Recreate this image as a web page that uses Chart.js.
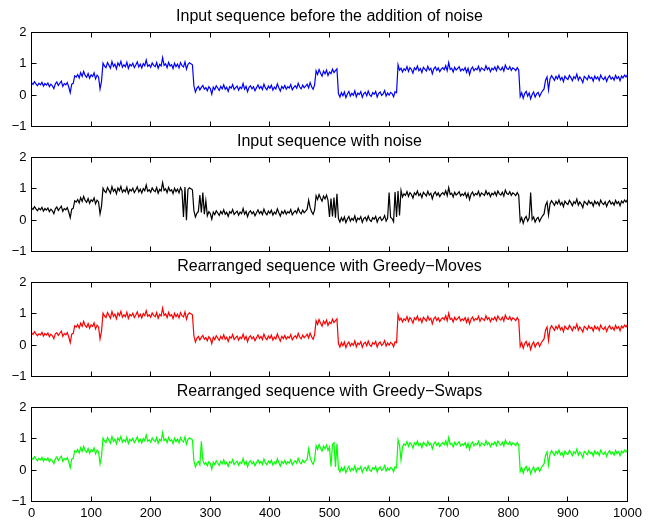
<!DOCTYPE html>
<html>
<head>
<meta charset="utf-8">
<script src="https://cdn.jsdelivr.net/npm/chart.js@4/dist/chart.umd.min.js"></script>
<style>
  body { margin: 0; background: #fff; }
  #wrap { position: relative; width: 650px; height: 522px; }
  #wrap canvas { position: absolute; left: 0; top: 0; }
</style>
</head>
<body>
<div id="wrap">
  <canvas id="p0" width="650" height="522"></canvas>
  <canvas id="p1" width="650" height="522"></canvas>
  <canvas id="p2" width="650" height="522"></canvas>
  <canvas id="p3" width="650" height="522"></canvas>
</div>
<script>
// one sample every 2.5 steps, x = 0..1000
const xs = Array.from({ length: 401 }, (_, i) => i * 2.5);

const titles = [
  'Input sequence before the addition of noise',
  'Input sequence with noise',
  'Rearranged sequence with Greedy\u2212Moves',
  'Rearranged sequence with Greedy\u2212Swaps'
];
const colors = ['#0000ff', '#000000', '#ff0000', '#00ff00'];
const yTickValues = [-1, 0, 1, 2];
const xTickValues = [0, 100, 200, 300, 400, 500, 600, 700, 800, 900, 1000];

const original = [
  0.40,0.34,0.43,0.36,0.30,0.38,0.33,0.41,0.29,0.37,
  0.32,0.39,0.27,0.35,0.30,0.21,0.36,0.42,0.31,0.38,
  0.45,0.28,0.37,0.33,0.40,0.26,0.08,0.35,0.38,0.62,
  0.58,0.66,0.55,0.72,0.60,0.76,0.63,0.57,0.69,0.54,
  0.65,0.60,0.71,0.52,0.64,0.58,0.20,0.45,1.02,0.93,
  0.88,1.04,0.95,0.86,1.07,0.92,0.99,0.84,1.03,0.94,
  1.08,0.89,0.97,0.91,1.05,0.85,0.98,0.93,1.02,0.88,
  0.96,1.06,0.90,0.99,0.87,1.01,0.94,1.12,0.92,0.97,
  0.89,1.03,0.95,0.91,1.04,0.86,0.98,0.93,1.20,0.95,
  1.00,0.88,1.05,0.93,0.97,0.85,1.02,0.91,0.99,0.87,
  1.04,0.94,0.90,1.06,0.83,0.98,1.03,1.00,0.97,0.30,
  0.10,0.22,0.28,0.17,0.25,0.31,0.19,0.24,0.14,0.27,
  0.21,0.03,0.26,0.18,0.30,0.23,0.15,0.28,0.20,0.33,
  0.19,0.25,0.12,0.27,0.22,0.34,0.18,0.24,0.29,0.16,
  0.26,0.21,0.37,0.19,0.28,0.11,0.25,0.30,0.20,0.27,
  0.14,0.24,0.33,0.21,0.28,0.18,0.35,0.23,0.17,0.29,
  0.22,0.32,0.16,0.26,0.20,0.36,0.24,0.13,0.28,0.21,
  0.31,0.19,0.27,0.23,0.34,0.17,0.25,0.30,0.22,0.38,
  0.26,0.20,0.32,0.24,0.29,0.35,0.23,0.40,0.27,0.19,
  0.33,0.78,0.66,0.82,0.70,0.61,0.77,0.68,0.80,0.63,
  0.74,0.69,0.83,0.72,0.78,0.84,0.05,-0.06,0.08,-0.02,
  0.10,-0.08,0.04,0.12,-0.03,0.06,0.00,0.14,-0.05,0.07,
  0.02,0.11,-0.07,0.05,0.09,-0.02,0.13,0.01,-0.04,0.08,
  0.03,0.12,-0.06,0.06,0.10,-0.01,0.04,0.15,-0.03,0.07,
  0.00,0.09,0.05,-0.05,0.11,0.08,0.97,0.80,0.86,0.74,
  0.84,0.79,0.91,0.76,0.88,0.82,0.70,0.87,0.81,0.93,
  0.78,0.85,0.72,0.89,0.83,0.77,0.92,0.80,0.86,0.68,
  0.84,0.90,0.79,0.87,0.75,0.83,0.88,0.81,0.94,0.78,
  1.04,0.82,0.86,0.74,0.89,0.80,0.85,0.91,0.77,0.84,
  0.79,0.88,0.73,0.86,0.66,0.83,0.90,0.78,0.85,0.81,
  0.92,0.76,0.87,0.83,0.79,0.94,0.82,0.88,0.75,0.86,
  0.81,0.90,0.78,0.93,0.84,0.80,0.89,0.77,0.96,0.85,
  0.82,0.91,0.79,0.87,0.84,0.78,0.88,0.80,-0.04,0.08,
  -0.10,0.05,0.12,-0.03,0.07,-0.12,0.02,0.10,-0.06,0.04,
  0.09,-0.04,0.06,0.14,0.20,0.48,0.58,0.17,0.52,0.62,
  0.55,0.47,0.60,0.52,0.64,0.49,0.57,0.43,0.61,0.54,
  0.50,0.63,0.56,0.46,0.59,0.53,0.67,0.48,0.58,0.51,
  0.40,0.60,0.55,0.49,0.62,0.53,0.57,0.45,0.61,0.52,
  0.58,0.47,0.64,0.54,0.50,0.59,0.44,0.56,0.62,0.51,
  0.57,0.48,0.63,0.53,0.59,0.46,0.61,0.55,0.64,0.58,
  0.66
];

const noisy = [
  0.40,0.34,0.43,0.36,0.30,0.38,0.33,0.41,0.29,0.37,
  0.32,0.39,0.27,0.35,0.30,0.21,0.36,0.42,0.31,0.38,
  0.45,0.28,0.37,0.33,0.40,0.26,0.08,0.35,0.38,0.62,
  0.58,0.66,0.55,0.72,0.60,0.76,0.63,0.57,0.69,0.54,
  0.65,0.60,0.71,0.52,0.64,0.58,0.20,0.45,1.02,0.93,
  0.88,1.04,0.95,0.86,1.07,0.92,0.99,0.84,1.03,0.94,
  1.08,0.89,0.97,0.91,1.05,0.85,0.98,0.93,1.02,0.88,
  0.96,1.06,0.90,0.99,0.87,1.01,0.94,1.12,0.92,0.97,
  0.89,1.03,0.95,0.91,1.04,0.86,0.98,0.93,1.20,0.95,
  1.00,0.88,1.05,0.93,0.97,0.85,1.02,0.91,0.99,0.87,
  1.04,0.94,0.10,1.06,0.00,0.98,1.03,1.00,0.97,0.30,
  0.10,0.22,0.28,0.80,0.25,0.88,0.19,0.62,0.14,0.27,
  0.21,0.03,0.26,0.18,0.30,0.23,0.15,0.28,0.20,0.33,
  0.19,0.25,0.12,0.27,0.22,0.34,0.18,0.24,0.29,0.16,
  0.26,0.21,0.37,0.19,0.28,0.11,0.25,0.30,0.20,0.27,
  0.14,0.24,0.33,0.21,0.28,0.18,0.35,0.23,0.17,0.29,
  0.22,0.32,0.16,0.26,0.20,0.36,0.24,0.13,0.28,0.21,
  0.31,0.19,0.27,0.23,0.34,0.17,0.25,0.30,0.22,0.38,
  0.26,0.20,0.32,0.24,0.29,0.35,0.64,0.40,0.27,0.19,
  0.33,0.78,0.66,0.82,0.70,0.61,0.77,0.68,0.80,0.63,
  0.10,0.69,0.12,0.72,0.08,0.84,0.05,-0.06,0.08,-0.02,
  0.10,-0.08,0.04,0.12,-0.03,0.06,0.00,0.14,-0.05,0.07,
  0.02,0.11,-0.07,0.05,0.09,-0.02,0.13,0.01,-0.04,0.08,
  0.03,0.12,-0.06,0.06,0.10,-0.01,0.04,0.15,-0.03,0.07,
  0.88,0.09,0.05,-0.05,0.90,0.10,0.93,0.15,0.95,0.74,
  0.84,0.79,0.91,0.76,0.88,0.82,0.70,0.87,0.81,0.93,
  0.78,0.85,0.72,0.89,0.83,0.77,0.92,0.80,0.86,0.68,
  0.84,0.90,0.79,0.87,0.75,0.83,0.88,0.81,0.94,0.78,
  1.04,0.82,0.86,0.74,0.89,0.80,0.85,0.91,0.77,0.84,
  0.79,0.88,0.73,0.86,0.66,0.83,0.90,0.78,0.85,0.81,
  0.92,0.76,0.87,0.83,0.79,0.94,0.82,0.88,0.75,0.86,
  0.81,0.90,0.78,0.93,0.84,0.80,0.89,0.77,0.96,0.85,
  0.82,0.91,0.79,0.87,0.84,0.78,0.88,0.80,-0.04,0.08,
  -0.10,0.05,0.12,-0.03,0.07,0.88,0.02,0.10,-0.06,0.04,
  0.09,-0.04,0.06,0.14,0.20,0.48,0.58,0.17,0.52,0.62,
  0.55,0.47,0.60,0.52,0.64,0.49,0.57,0.43,0.61,0.54,
  0.50,0.63,0.56,0.46,0.59,0.53,0.67,0.48,0.58,0.51,
  0.40,0.60,0.55,0.49,0.62,0.53,0.57,0.45,0.61,0.52,
  0.58,0.47,0.64,0.54,0.50,0.59,0.44,0.56,0.62,0.51,
  0.57,0.48,0.63,0.53,0.59,0.46,0.61,0.55,0.64,0.58,
  0.66
];

const greedyMoves = [
  0.40,0.34,0.43,0.36,0.30,0.36,0.33,0.41,0.29,0.37,
  0.32,0.39,0.27,0.35,0.30,0.21,0.36,0.40,0.31,0.38,
  0.45,0.28,0.37,0.33,0.40,0.26,0.08,0.35,0.38,0.62,
  0.58,0.66,0.55,0.70,0.60,0.76,0.63,0.57,0.69,0.54,
  0.65,0.60,0.71,0.52,0.64,0.58,0.20,0.45,1.02,0.93,
  0.88,1.04,0.95,0.86,1.07,0.92,0.99,0.84,1.03,0.94,
  1.08,0.89,0.97,0.91,1.05,0.85,0.98,0.93,1.02,0.88,
  0.96,1.06,0.90,0.99,0.87,1.01,0.94,1.10,0.92,0.97,
  0.89,1.03,0.95,0.91,1.04,0.86,0.98,0.93,1.18,0.95,
  1.00,0.88,1.05,0.93,0.97,0.85,1.02,0.91,0.99,0.87,
  1.04,0.94,0.90,1.06,0.83,0.98,1.03,1.00,0.97,0.30,
  0.10,0.22,0.28,0.17,0.25,0.31,0.19,0.24,0.14,0.27,
  0.21,0.05,0.26,0.18,0.30,0.23,0.15,0.28,0.20,0.33,
  0.19,0.25,0.12,0.27,0.22,0.34,0.18,0.24,0.29,0.16,
  0.26,0.21,0.35,0.19,0.28,0.11,0.25,0.30,0.20,0.27,
  0.14,0.24,0.33,0.21,0.28,0.18,0.35,0.23,0.17,0.29,
  0.22,0.32,0.16,0.26,0.20,0.36,0.24,0.13,0.28,0.21,
  0.31,0.19,0.27,0.23,0.34,0.17,0.25,0.30,0.22,0.38,
  0.26,0.20,0.32,0.24,0.29,0.35,0.23,0.38,0.27,0.19,
  0.33,0.78,0.66,0.82,0.70,0.61,0.77,0.68,0.80,0.63,
  0.74,0.69,0.83,0.72,0.78,0.84,0.05,-0.06,0.08,-0.02,
  0.10,-0.08,0.04,0.10,-0.03,0.06,0.00,0.14,-0.05,0.07,
  0.02,0.11,-0.07,0.05,0.09,-0.02,0.13,0.01,-0.04,0.08,
  0.03,0.12,-0.06,0.06,0.10,-0.01,0.04,0.15,-0.03,0.07,
  0.00,0.09,0.05,-0.05,0.11,0.08,0.97,0.80,0.86,0.74,
  0.84,0.79,0.91,0.76,0.88,0.82,0.70,0.87,0.81,0.93,
  0.78,0.85,0.72,0.89,0.83,0.77,0.92,0.80,0.86,0.68,
  0.84,0.90,0.79,0.87,0.75,0.83,0.88,0.81,0.94,0.78,
  1.02,0.82,0.86,0.74,0.89,0.80,0.85,0.91,0.77,0.84,
  0.79,0.88,0.73,0.86,0.68,0.83,0.90,0.78,0.85,0.81,
  0.92,0.76,0.87,0.83,0.79,0.94,0.82,0.88,0.75,0.86,
  0.81,0.90,0.78,0.93,0.84,0.80,0.89,0.77,0.96,0.85,
  0.82,0.91,0.79,0.87,0.84,0.78,0.88,0.80,-0.04,0.08,
  -0.10,0.05,0.12,-0.03,0.07,-0.14,0.02,0.10,-0.06,0.04,
  0.09,-0.04,0.06,0.14,0.20,0.48,0.58,0.15,0.52,0.62,
  0.55,0.47,0.60,0.52,0.64,0.49,0.57,0.43,0.61,0.54,
  0.50,0.63,0.56,0.46,0.59,0.53,0.67,0.48,0.58,0.51,
  0.42,0.60,0.55,0.49,0.62,0.53,0.57,0.45,0.61,0.52,
  0.58,0.47,0.64,0.54,0.50,0.59,0.44,0.56,0.62,0.51,
  0.57,0.48,0.63,0.53,0.59,0.46,0.61,0.55,0.64,0.58,
  0.66
];

const greedySwaps = [
  0.40,0.34,0.43,0.36,0.30,0.38,0.33,0.41,0.29,0.37,
  0.32,0.39,0.27,0.35,0.30,0.21,0.36,0.42,0.31,0.38,
  0.45,0.28,0.37,0.33,0.40,0.26,0.08,0.35,0.38,0.62,
  0.58,0.66,0.55,0.72,0.60,0.76,0.63,0.57,0.69,0.54,
  0.65,0.60,0.71,0.52,0.64,0.58,0.20,0.45,1.02,0.93,
  0.88,1.04,0.95,0.86,1.07,0.92,0.99,0.84,1.03,0.94,
  1.08,0.89,0.97,0.91,1.05,0.85,0.98,0.93,1.02,0.88,
  0.96,1.06,0.90,0.99,0.87,1.01,0.94,1.12,0.92,0.97,
  0.89,1.03,0.95,0.91,1.04,0.86,0.98,0.93,1.20,0.95,
  1.00,0.88,1.05,0.93,0.97,0.85,1.02,0.91,0.99,0.87,
  1.04,0.94,0.90,1.06,0.83,0.98,1.03,1.00,0.97,0.30,
  0.10,0.22,0.28,0.17,0.92,0.31,0.19,0.24,0.14,0.27,
  0.21,0.03,0.26,0.18,0.30,0.23,0.15,0.28,0.20,0.33,
  0.19,0.25,0.12,0.27,0.22,0.34,0.18,0.24,0.29,0.16,
  0.26,0.21,0.37,0.19,0.28,0.11,0.25,0.30,0.20,0.27,
  0.14,0.24,0.33,0.21,0.28,0.18,0.35,0.23,0.17,0.29,
  0.22,0.32,0.16,0.26,0.20,0.36,0.24,0.13,0.28,0.21,
  0.31,0.19,0.27,0.23,0.34,0.17,0.25,0.30,0.22,0.38,
  0.26,0.20,0.32,0.24,0.29,0.35,0.68,0.40,0.27,0.19,
  0.33,0.78,0.66,0.82,0.70,0.61,0.77,0.68,0.80,0.63,
  0.74,0.12,0.83,0.88,0.10,0.84,0.05,-0.06,0.08,-0.02,
  0.10,-0.08,0.04,0.12,-0.03,0.06,0.00,0.14,-0.05,0.07,
  0.02,0.11,-0.07,0.05,0.09,-0.02,0.13,0.01,-0.04,0.08,
  0.03,0.12,-0.06,0.06,0.10,-0.01,0.04,0.15,-0.03,0.07,
  0.00,0.09,0.05,-0.05,0.11,0.08,0.97,0.80,0.32,0.74,
  0.84,0.79,0.91,0.76,0.88,0.82,0.70,0.87,0.81,0.93,
  0.78,0.85,0.72,0.89,0.83,0.77,0.92,0.80,0.86,0.68,
  0.84,0.90,0.79,0.87,0.75,0.83,0.88,0.81,0.94,0.78,
  1.04,0.82,0.86,0.74,0.89,0.80,0.85,0.91,0.77,0.84,
  0.79,0.88,0.73,0.86,0.66,0.83,0.90,0.78,0.85,0.81,
  0.92,0.76,0.87,0.83,0.79,0.94,0.82,0.88,0.75,0.86,
  0.81,0.90,0.78,0.93,0.84,0.80,0.89,0.77,0.96,0.85,
  0.82,0.91,0.79,0.87,0.84,0.78,0.88,0.80,-0.04,0.08,
  -0.10,0.05,0.12,-0.03,0.07,-0.12,0.02,0.10,-0.06,0.04,
  0.09,-0.04,0.06,0.14,0.20,0.48,0.58,0.17,0.52,0.62,
  0.55,0.47,0.60,0.52,0.64,0.49,0.57,0.43,0.61,0.54,
  0.50,0.63,0.56,0.46,0.59,0.53,0.67,0.48,0.58,0.51,
  0.40,0.60,0.55,0.49,0.62,0.53,0.57,0.45,0.61,0.52,
  0.58,0.47,0.64,0.54,0.50,0.59,0.44,0.56,0.62,0.51,
  0.57,0.48,0.63,0.53,0.59,0.46,0.61,0.55,0.64,0.58,
  0.66
];

const series = [original, noisy, greedyMoves, greedySwaps];

const FONT = "'Liberation Sans', Arial, Helvetica, sans-serif";
Chart.defaults.font.family = FONT;
Chart.defaults.font.size = 13;
Chart.defaults.color = '#000';

// matlab-style box: frame, inward ticks, title above
const matlabBox = {
  id: 'matlabBox',
  afterDraw(chart, args, opts) {
    const { ctx, chartArea: a, scales: { x, y } } = chart;
    const snap = v => Math.round(v - 0.5) + 0.5;
    ctx.save();
    ctx.strokeStyle = '#000';
    ctx.lineWidth = 1;
    ctx.strokeRect(a.left, a.top, a.right - a.left, a.bottom - a.top);
    ctx.beginPath();
    xTickValues.slice(1, -1).forEach(v => {
      const px = snap(x.getPixelForValue(v));
      ctx.moveTo(px, a.top); ctx.lineTo(px, a.top + 5);
      ctx.moveTo(px, a.bottom); ctx.lineTo(px, a.bottom - 5);
    });
    yTickValues.slice(1, -1).forEach(v => {
      const py = snap(y.getPixelForValue(v));
      ctx.moveTo(a.left, py); ctx.lineTo(a.left + 5, py);
      ctx.moveTo(a.right, py); ctx.lineTo(a.right - 5, py);
    });
    ctx.stroke();

    ctx.fillStyle = '#000';
    ctx.font = '16px ' + FONT;
    ctx.textAlign = 'center';
    ctx.textBaseline = 'alphabetic';
    ctx.fillText(opts.title, (a.left + a.right) / 2, a.top - 11.5);
    ctx.restore();
  }
};

const panelTops = [32.5, 157.5, 282.5, 407.5];
const PANEL_H = 94;

series.forEach((vals, p) => {
  const last = p === series.length - 1;
  const xAxisH = last ? 20 : 0;
  const top = panelTops[p];
  new Chart(document.getElementById('p' + p), {
    type: 'line',
    data: {
      datasets: [{
        data: vals.map((v, i) => ({ x: xs[i], y: v })),
        borderColor: colors[p],
        borderWidth: 1.2,
        pointRadius: 0,
        tension: 0,
        fill: false
      }]
    },
    options: {
      responsive: false,
      animation: false,
      events: [],
      layout: {
        padding: { top: top, left: 0, right: 22.5, bottom: 522 - top - PANEL_H - xAxisH }
      },
      plugins: {
        legend: { display: false },
        tooltip: { enabled: false },
        matlabBox: { title: titles[p] }
      },
      scales: {
        x: {
          type: 'linear',
          min: 0,
          max: 1000,
          grid: { display: false, drawTicks: false },
          border: { display: false },
          ticks: { display: last, stepSize: 100, padding: 4, maxRotation: 0, callback: v => String(v) },
          afterFit: s => { s.height = xAxisH; }
        },
        y: {
          min: -1,
          max: 2,
          grid: { display: false, drawTicks: false },
          border: { display: false },
          ticks: {
            stepSize: 1,
            padding: 5,
            callback: v => (v < 0 ? '\u2212' + Math.abs(v) : String(v))
          },
          afterFit: s => { s.width = 31.5; }
        }
      }
    },
    plugins: [matlabBox]
  });
});
</script>
</body>
</html>
